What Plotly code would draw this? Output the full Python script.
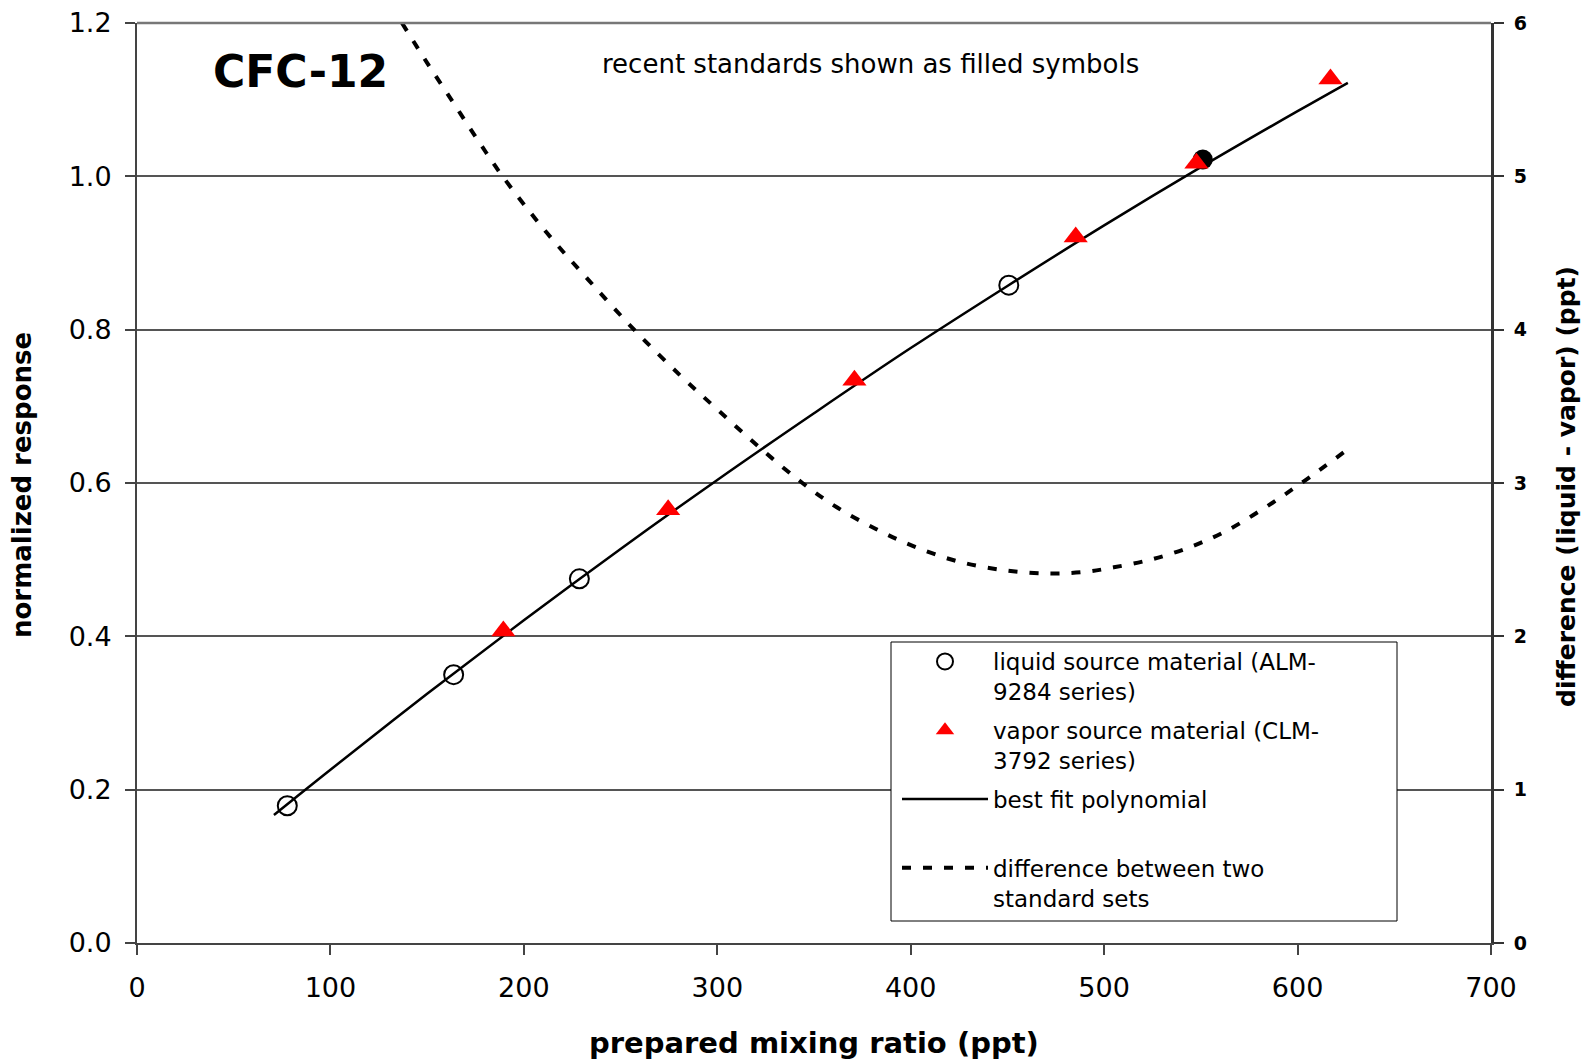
import plotly.graph_objects as go

# ---------------- data ----------------
liquid_x = [77.7, 163.7, 228.7, 450.7]
liquid_y = [0.179, 0.350, 0.475, 0.858]

recent_liquid_x = [551.0]
recent_liquid_y = [1.022]

vapor_x = [189.4, 274.6, 370.9, 485.3, 547.7, 617.0]
vapor_y = [0.407, 0.565, 0.734, 0.921, 1.017, 1.127]

fit_x = [70.8, 100, 150, 200, 250, 300, 350, 400, 450, 500, 550, 600, 626]
fit_y = [0.167, 0.226, 0.325, 0.421, 0.514, 0.604, 0.691, 0.776, 0.857, 0.936, 1.012, 1.085, 1.122]

diff_x = [137, 150, 163, 176, 189, 212, 233, 257, 281, 300, 322, 344, 362, 382,
          401, 424, 449, 472, 490, 505, 524, 544, 562, 582, 602, 626]
diff_y = [6.00, 5.74, 5.49, 5.24, 5.00, 4.63, 4.33, 4.00, 3.70, 3.48, 3.23, 3.00,
          2.84, 2.70, 2.59, 2.49, 2.43, 2.41, 2.42, 2.45, 2.50, 2.58, 2.68, 2.83,
          3.00, 3.22]

x_ticks = [0, 100, 200, 300, 400, 500, 600, 700]
y_ticks = [0.0, 0.2, 0.4, 0.6, 0.8, 1.0, 1.2]
y_tick_labels = ["0.0", "0.2", "0.4", "0.6", "0.8", "1.0", "1.2"]
y2_ticks = [0, 1, 2, 3, 4, 5, 6]

# ---------------- layout geometry (pixels) ----------------
W, H = 1591, 1061
L, R, T, B = 137, 100, 23, 118
PW, PH = W - L - R, H - T - B


def px(x):
    return (x - L) / PW


def py(y):
    return (H - B - y) / PH


FONT = "DejaVu Sans, Liberation Sans, Arial, sans-serif"

fig = go.Figure()

fig.add_trace(go.Scatter(
    x=fit_x, y=fit_y, mode="lines", line_shape="spline", name="best fit polynomial<br> ",
    line=dict(color="black", width=2.5), legendrank=3, legendgroup="c",
))
fig.add_trace(go.Scatter(
    x=liquid_x, y=liquid_y, mode="markers",
    name="liquid source material (ALM-<br>9284 series)",
    marker=dict(symbol="circle-open", size=19, color="black", line=dict(width=2, color="black")),
    legendrank=1, legendgroup="a",
))
fig.add_trace(go.Scatter(
    x=recent_liquid_x, y=recent_liquid_y, mode="markers", showlegend=False,
    marker=dict(symbol="circle", size=20, color="black"),
))
fig.add_trace(go.Scatter(
    x=vapor_x, y=vapor_y, mode="markers",
    name="vapor source material (CLM-<br>3792 series)",
    marker=dict(symbol="triangle-up", size=21, color="#ff0000", line=dict(width=0)),
    legendrank=2, legendgroup="b",
))
fig.add_trace(go.Scatter(
    x=diff_x, y=diff_y, yaxis="y2", mode="lines", line_shape="spline",
    name="difference between two<br>standard sets",
    line=dict(color="black", width=4, dash="9px,12px"),
    legendrank=4, legendgroup="d",
))

fig.update_layout(
    width=W, height=H, autosize=False,
    margin=dict(l=L, r=R, t=T, b=B, pad=0, autoexpand=False),
    paper_bgcolor="white", plot_bgcolor="white",
    font=dict(family=FONT, color="black"),
    showlegend=True,
    legend=dict(
        x=px(897), y=py(640), xanchor="left", yanchor="top",
        bgcolor="rgba(0,0,0,0)", borderwidth=0,
        font=dict(family=FONT, size=23, color="black"),
        itemwidth=86, valign="top", tracegroupgap=6,
        traceorder="grouped",
    ),
    xaxis=dict(
        range=[0, 700], tickvals=x_ticks, ticktext=[str(v) for v in x_ticks],
        ticks="outside", ticklen=10, tickwidth=1.5, tickcolor="#444",
        showline=True, linecolor="#444", linewidth=2, automargin=False,
        showgrid=False, zeroline=False, ticklabelstandoff=10,
        tickfont=dict(family=FONT, size=27, color="black"),
    ),
    yaxis=dict(
        range=[0, 1.2], tickvals=y_ticks, ticktext=y_tick_labels,
        ticks="outside", ticklen=10, tickwidth=1.5, tickcolor="#444",
        showline=True, linecolor="#444", linewidth=2, automargin=False,
        showgrid=True, gridcolor="#555", gridwidth=1.5, zeroline=False,
        ticklabelstandoff=8,
        tickfont=dict(family=FONT, size=27, color="black"),
    ),
    yaxis2=dict(
        range=[0, 6], tickvals=y2_ticks, overlaying="y", side="right",
        ticks="outside", ticklen=10, tickwidth=1.5, tickcolor="#333",
        showline=True, linecolor="#333", linewidth=3, automargin=False,
        showgrid=False, zeroline=False, ticklabelstandoff=6,
        tickfont=dict(family=FONT, size=19, color="black", weight="bold"),
    ),
    shapes=[
        dict(type="line", xref="paper", yref="paper", x0=0, x1=1, y0=1, y1=1,
             line=dict(color="#777", width=2.5), layer="above"),
        dict(type="rect", xref="paper", yref="paper",
             x0=px(891), x1=px(1397), y0=py(921), y1=py(642),
             fillcolor="white", line=dict(color="black", width=1), layer="above"),
    ],
    annotations=[
        dict(text="<b>CFC-12</b>", xref="paper", yref="paper", x=px(300), y=py(71),
             xanchor="center", yanchor="middle", showarrow=False,
             font=dict(family=FONT, size=44, color="black")),
        dict(text="recent standards shown as filled symbols", xref="paper", yref="paper",
             x=px(871), y=py(64), xanchor="center", yanchor="middle", showarrow=False,
             font=dict(family=FONT, size=26, color="black")),
        dict(text="<b>prepared mixing ratio (ppt)</b>", xref="paper", yref="paper",
             x=px(814), y=py(1043), xanchor="center", yanchor="middle", showarrow=False,
             font=dict(family=FONT, size=29, color="black")),
        dict(text="<b>normalized response</b>", xref="paper", yref="paper",
             x=px(22), y=py(485), xanchor="center", yanchor="middle", showarrow=False,
             textangle=-90, font=dict(family=FONT, size=26, color="black")),
        dict(text="<b>difference (liquid - vapor) (ppt)</b>", xref="paper", yref="paper",
             x=px(1566), y=py(487), xanchor="center", yanchor="middle", showarrow=False,
             textangle=-90, font=dict(family=FONT, size=25, color="black")),
    ],
)

fig.write_html("out.html")
